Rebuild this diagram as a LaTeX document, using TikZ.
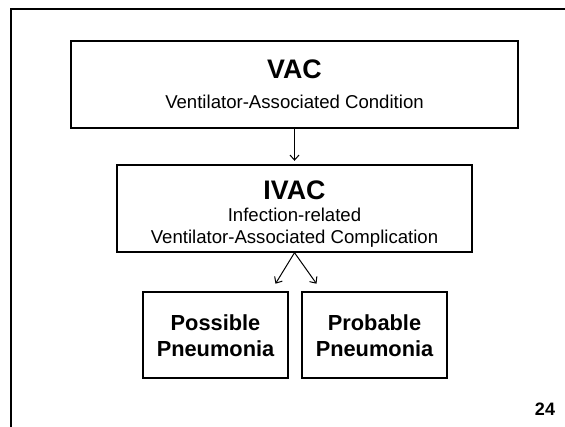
\documentclass[tikz,border=0pt]{standalone}
\usepackage{fontspec}
\setmainfont{Liberation Sans}
\usetikzlibrary{arrows.meta,calc,shadows}
\begin{document}
\begin{tikzpicture}[x=1pt,y=-1pt,
  box/.style={draw=black, line width=1.4pt, fill=white, rectangle, inner sep=0pt,
    drop shadow={shadow xshift=1.3pt, shadow yshift=-1.3pt, fill=black!35, opacity=0.6}},
  conn/.style={line width=1pt, -{Straight Barb[length=5pt,width=9pt]}},
  ttl/.style={font=\bfseries\fontsize{26.8}{30}\selectfont, inner sep=0pt, anchor=base},
  sub/.style={font=\fontsize{18.6}{21}\selectfont, inner sep=0pt, anchor=base},
  pn/.style={font=\bfseries\fontsize{21.8}{26}\selectfont, inner sep=0pt, anchor=base},
  frame/.style={line width=2pt}]
\useasboundingbox (0,0) rectangle (565,426);
\fill[white] (0,0) rectangle (565,426);
% slide frame
\draw[frame] (11,430) -- (11,9) -- (570,9);
% boxes
\node[box, minimum width=447pt, minimum height=87pt] (vac) at (294.5,84.5) {};
\node[box, minimum width=355pt, minimum height=87pt] (ivac) at (294.5,208.5) {};
\node[box, minimum width=145pt, minimum height=86pt] (poss) at (215.5,335) {};
\node[box, minimum width=145pt, minimum height=86pt] (prob) at (374.5,335) {};
% texts
\node[ttl] (vact) at (294.5,78.5) {VAC};
\node[sub] (vacs) at (294.5,108) {Ventilator-Associated Condition};
\node[ttl] (ivact) at (294.5,199.5) {IVAC};
\node[sub] (ivacs1) at (294.5,221.5) {Infection-related};
\node[sub] (ivacs2) at (294.5,243.5) {Ventilator-Associated Complication};
\node[pn] (posst1) at (215.5,330) {Possible};
\node[pn] (posst2) at (215.5,356) {Pneumonia};
\node[pn] (probt1) at (374.5,330) {Probable};
\node[pn] (probt2) at (374.5,356) {Pneumonia};
\node[font=\bfseries\fontsize{18}{21}\selectfont, inner sep=0pt, anchor=base] (pg) at (545,415) {24};
% connectors
\coordinate (tipL) at ($(ivac.south)+(-19,31)$);
\coordinate (tipR) at ($(ivac.south)+(22,31)$);
\draw[conn, shorten >=3.5pt] (vac.south) -- (ivac.north);
\draw[conn] (ivac.south) -- (tipL);
\draw[conn] (ivac.south) -- (tipR);
\end{tikzpicture}
\end{document}
